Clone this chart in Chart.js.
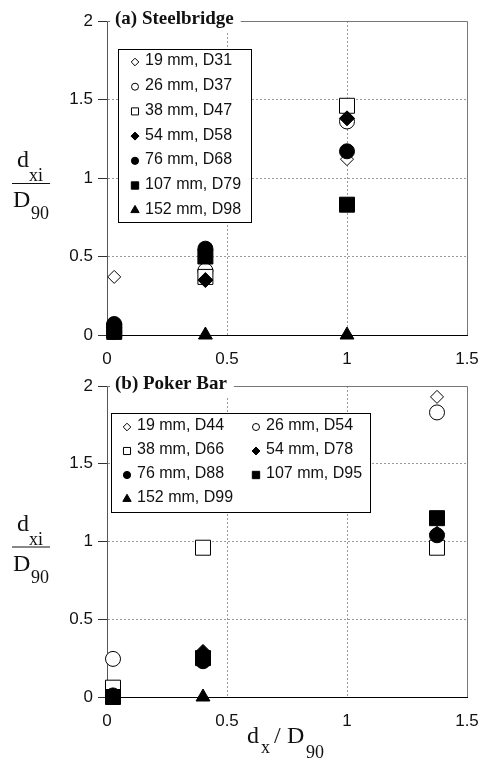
<!DOCTYPE html>
<html>
<head>
<meta charset="utf-8">
<script src="https://cdn.jsdelivr.net/npm/chart.js@4"></script>
<style>
  body { margin: 0; background: #fff; }
  canvas { position: absolute; left: 0; }
  #chartA { top: 0; }
  #chartB { top: 372px; }
</style>
</head>
<body>
<canvas id="chartA" width="481" height="372"></canvas>
<canvas id="chartB" width="481" height="389"></canvas>
<script>
// axis ticks
var xTicks = [0, 0.5, 1, 1.5];
var yTicks = [0, 0.5, 1, 1.5, 2];

// (a) Steelbridge
var labelsA = ["19 mm, D31", "26 mm, D37", "38 mm, D47", "54 mm, D58", "76 mm, D68", "107 mm, D79", "152 mm, D98"];
var xA = [0.03, 0.41, 1.0];
var a19 = [0.37, 0.37, 1.12];
var a26 = [0.02, 0.41, 1.36];
var a38 = [0.03, 0.37, 1.46];
var a54 = [0.05, 0.35, 1.38];
var a76 = [0.07, 0.55, 1.17];
var a107 = [0.02, 0.50, 0.83];
var a152 = [0, 0, 0];

// (b) Poker Bar
var labelsB = ["19 mm, D44", "26 mm, D54", "38 mm, D66", "54 mm, D78", "76 mm, D88", "107 mm, D95", "152 mm, D99"];
var xB = [0.025, 0.40, 1.375];
var b19 = [0.01, 0.24, 1.93];
var b26 = [0.245, 0.24, 1.83];
var b38 = [0.06, 0.96, 0.96];
var b54 = [0.01, 0.29, 1.05];
var b76 = [0.01, 0.23, 1.04];
var b107 = [0, 0.25, 1.15];
var b152 = [0, 0, null];

// marker look per series (same order in both panels)
var markers = [
  { style: "rectRot", r: 6.5, fill: "#fff", lr: 3.8 },
  { style: "circle", r: 7.5, fill: "#fff", lr: 3.5 },
  { style: "rect", r: 10.6, fill: "#fff", lr: 5 },
  { style: "rectRot", r: 7.5, fill: "#000", lr: 4 },
  { style: "circle", r: 7.5, fill: "#000", lr: 3.6 },
  { style: "rect", r: 10.6, fill: "#000", lr: 5.2 },
  { style: "triangle", r: 8, fill: "#000", lr: 4.8 }
];

function makeDatasets(labels, xs, series) {
  return series.map(function (ys, i) {
    var m = markers[i];
    var pts = [];
    for (var k = 0; k < xs.length; k++) {
      if (ys[k] !== null) pts.push({ x: xs[k], y: ys[k] });
    }
    return {
      label: labels[i],
      data: pts,
      order: 10 - i, // later series sit on top, like the original
      showLine: false,
      pointStyle: m.style,
      pointRadius: m.r,
      pointHoverRadius: m.r,
      pointBackgroundColor: m.fill,
      pointBorderColor: "#000",
      pointBorderWidth: 1,
      clip: false
    };
  });
}

function drawMarker(ctx, style, x, y, r, fill) {
  ctx.beginPath();
  if (style === "circle") {
    ctx.arc(x, y, r, 0, Math.PI * 2);
  } else if (style === "rect") {
    var s = r * Math.SQRT1_2;
    ctx.rect(x - s, y - s, 2 * s, 2 * s);
  } else if (style === "rectRot") {
    ctx.moveTo(x, y - r);
    ctx.lineTo(x + r, y);
    ctx.lineTo(x, y + r);
    ctx.lineTo(x - r, y);
    ctx.closePath();
  } else {
    ctx.moveTo(x, y - r);
    ctx.lineTo(x + r * 0.866, y + r * 0.5);
    ctx.lineTo(x - r * 0.866, y + r * 0.5);
    ctx.closePath();
  }
  ctx.fillStyle = fill;
  ctx.fill();
  ctx.lineWidth = 1;
  ctx.strokeStyle = "#000";
  ctx.stroke();
}

var decorPlugin = {
  id: "decor",
  beforeDatasetsDraw: function (chart) {
    var ctx = chart.ctx, a = chart.chartArea;
    ctx.save();
    ctx.strokeStyle = "#777";
    ctx.lineWidth = 1;
    ctx.beginPath();
    ctx.moveTo(a.left, a.top + 0.5);
    ctx.lineTo(a.right + 0.5, a.top + 0.5);
    ctx.lineTo(a.right + 0.5, a.bottom);
    ctx.stroke();
    ctx.restore();
  },
  afterDraw: function (chart, args, opts) {
    var ctx = chart.ctx, a = chart.chartArea;
    ctx.save();

    // panel title over the top frame line
    ctx.font = "bold 19px 'Liberation Serif', 'Times New Roman', serif";
    ctx.textBaseline = "middle";
    ctx.textAlign = "left";
    var tw = ctx.measureText(opts.title).width;
    ctx.fillStyle = "#fff";
    ctx.fillRect(a.left + 3, a.top - 10, tw + 12, 20);
    ctx.fillStyle = "#111";
    ctx.fillText(opts.title, a.left + 8, a.top - 2);

    // legend box
    var L = opts.legend;
    ctx.fillStyle = "#fff";
    ctx.fillRect(L.x, L.y, L.w, L.h);
    ctx.strokeStyle = "#000";
    ctx.lineWidth = 1;
    ctx.strokeRect(L.x + 0.5, L.y + 0.5, L.w, L.h);
    ctx.font = "16px 'Liberation Sans', Arial, sans-serif";
    ctx.textBaseline = "middle";
    chart.data.datasets.forEach(function (ds, i) {
      var col = i % L.cols, row = Math.floor(i / L.cols);
      var mx = L.x + L.mx + col * L.colW;
      var my = L.y + L.my + row * L.rowH;
      var m = markers[i];
      drawMarker(ctx, m.style, mx, my + 1, m.lr, m.fill);
      ctx.fillStyle = "#111";
      ctx.fillText(ds.label, mx + 10, my);
    });

    // y title: d_xi over D_90
    var yc = (a.top + a.bottom) / 2;
    ctx.fillStyle = "#111";
    ctx.textBaseline = "alphabetic";
    ctx.font = "24px 'Liberation Serif', 'Times New Roman', serif";
    ctx.fillText("d", 17, yc - 11);
    ctx.fillText("D", 13, yc + 29);
    ctx.font = "18px 'Liberation Serif', 'Times New Roman', serif";
    ctx.fillText("xi", 29, yc + 3);
    ctx.fillText("90", 31, yc + 41);
    ctx.strokeStyle = "#111";
    ctx.beginPath();
    ctx.moveTo(12, yc + 5.5);
    ctx.lineTo(50, yc + 5.5);
    ctx.stroke();

    // x title only on the lower panel
    if (opts.xTitle) {
      var b = a.bottom;
      ctx.font = "24px 'Liberation Serif', 'Times New Roman', serif";
      ctx.fillText("d", 247, b + 46);
      ctx.fillText("/", 274, b + 46);
      ctx.fillText("D", 287, b + 46);
      ctx.font = "18px 'Liberation Serif', 'Times New Roman', serif";
      ctx.fillText("x", 261, b + 56);
      ctx.fillText("90", 306, b + 61);
    }
    ctx.restore();
  }
};

function hideEdge(edges) {
  return function (c) {
    if (c.tick && edges.indexOf(c.tick.value) >= 0) return "rgba(0,0,0,0)";
    return "#9a9a9a";
  };
}

function makeOptions(padTop, xAxisH, title, legend, xTitle) {
  var tickFont = { family: "'Liberation Sans', Arial, sans-serif", size: 17 };
  return {
    responsive: false,
    animation: false,
    layout: { autoPadding: false, padding: { left: 0, right: 14, top: padTop, bottom: 0 } },
    plugins: {
      legend: { display: false },
      tooltip: { enabled: false },
      decor: { title: title, legend: legend, xTitle: xTitle }
    },
    scales: {
      x: {
        type: "linear",
        min: 0,
        max: 1.5,
        afterBuildTicks: function (s) { s.ticks = xTicks.map(function (v) { return { value: v }; }); },
        afterFit: function (s) {
          s.height = xAxisH;
          s.paddingLeft = 0;
          s.paddingRight = 0;
        },
        ticks: { color: "#111", font: tickFont, padding: 14, maxRotation: 0,
          callback: function (v) { return String(v); } },
        grid: { color: hideEdge([0, 1.5]), drawTicks: false, lineWidth: 1 },
        border: { color: "#000", width: 1, dash: [2, 2] }
      },
      y: {
        type: "linear",
        min: 0,
        max: 2,
        afterBuildTicks: function (s) { s.ticks = yTicks.map(function (v) { return { value: v }; }); },
        afterFit: function (s) {
          s.width = 107;
          s.paddingTop = 0;
          s.paddingBottom = 0;
        },
        ticks: { color: "#111", font: tickFont, padding: 5,
          callback: function (v) { return String(v); } },
        grid: { color: hideEdge([0, 2]), drawTicks: true, tickLength: 9, tickColor: "#333",
          tickBorderDash: [], lineWidth: 1 },
        border: { color: "#555", width: 1, dash: [2, 2] }
      }
    }
  };
}

new Chart(document.getElementById("chartA"), {
  type: "scatter",
  data: { datasets: makeDatasets(labelsA, xA, [a19, a26, a38, a54, a76, a107, a152]) },
  options: makeOptions(21, 37, "(a) Steelbridge",
    { x: 118, y: 49, w: 133, h: 173, cols: 1, colW: 0, rowH: 24.7, mx: 17, my: 12 }, false),
  plugins: [decorPlugin]
});

new Chart(document.getElementById("chartB"), {
  type: "scatter",
  data: { datasets: makeDatasets(labelsB, xB, [b19, b26, b38, b54, b76, b107, b152]) },
  options: makeOptions(14, 64, "(b) Poker Bar",
    { x: 111, y: 41, w: 259, h: 99, cols: 2, colW: 129, rowH: 24, mx: 16, my: 13 }, true),
  plugins: [decorPlugin]
});
</script>
</body>
</html>
